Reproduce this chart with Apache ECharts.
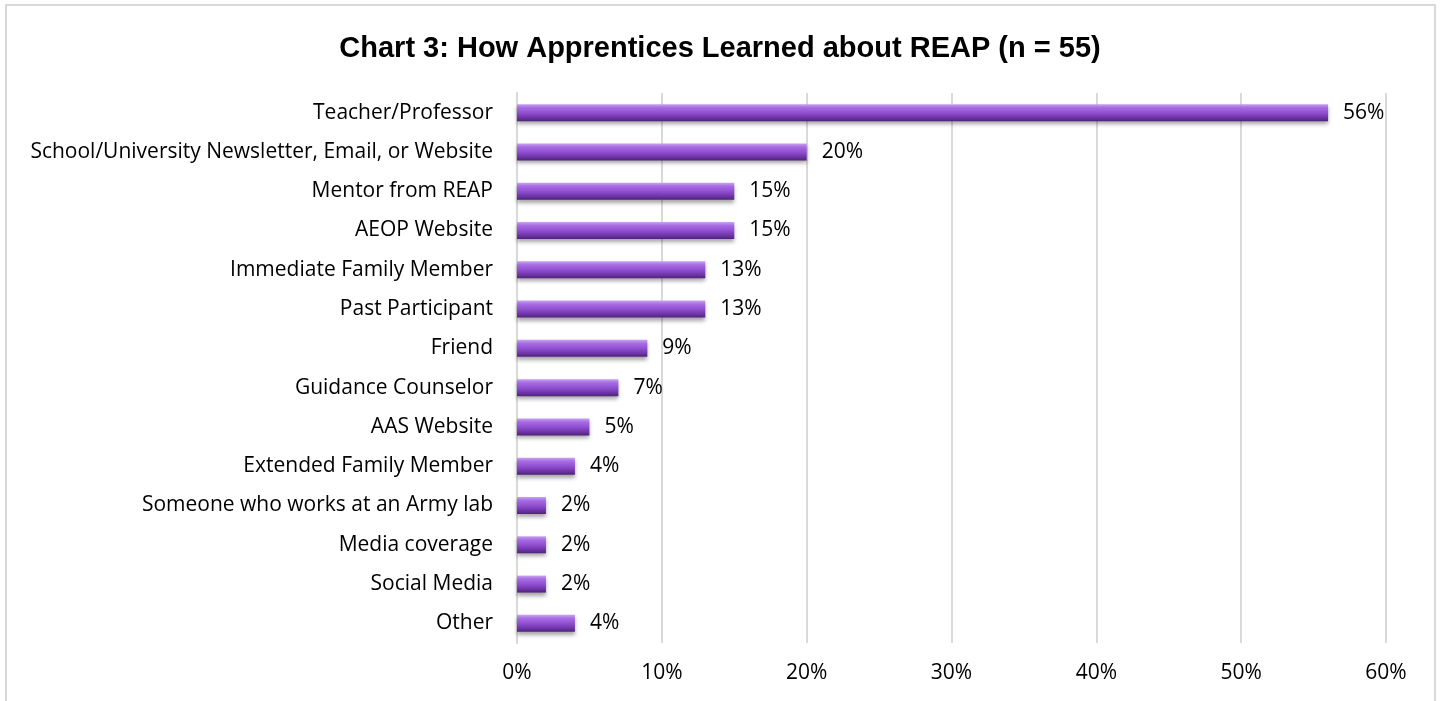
<!DOCTYPE html>
<html>
<head>
<meta charset="utf-8">
<script src="https://cdn.jsdelivr.net/npm/echarts@6/dist/echarts.min.js"></script>
<style>html,body{margin:0;padding:0;background:#fff}#c{width:1440px;height:701px}</style>
</head>
<body>
<div id="c"></div>
<script>
const categories = ["Teacher/Professor","School/University Newsletter, Email, or Website","Mentor from REAP","AEOP Website","Immediate Family Member","Past Participant","Friend","Guidance Counselor","AAS Website","Extended Family Member","Someone who works at an Army lab","Media coverage","Social Media","Other"];
const values = [56,20,15,15,13,13,9,7,5,4,2,2,2,4];
const xTicks = [0,10,20,30,40,50,60];

const chart = echarts.init(document.getElementById('c'));
chart.setOption({
  animation:false,
  backgroundColor:'#fff',
  title:{text:'Chart 3: How Apprentices Learned about REAP (n = 55)',left:'center',top:29,
    textStyle:{fontFamily:'Liberation Sans',fontWeight:'bold',fontSize:29,color:'#000'}},
  graphic:[{type:'rect',shape:{x:6,y:5,width:1429,height:740},style:{fill:'none',stroke:'#d9d9d9',lineWidth:2},silent:true}],
  grid:{left:517,right:54,top:93,height:550},
  xAxis:{type:'value',min:0,max:60,interval:10,
    axisLabel:{formatter:v=>v+'%',fontFamily:'Open Sans',fontSize:21,color:'#000',margin:20},
    axisLine:{show:false},axisTick:{show:false},
    splitLine:{lineStyle:{color:'#d9d9d9',width:2}}},
  yAxis:{type:'category',data:categories,inverse:true,
    axisLabel:{fontFamily:'Open Sans',fontSize:21,color:'#000',margin:24},
    axisLine:{show:true,lineStyle:{color:'#d9d9d9',width:2}},axisTick:{show:false}},
  series:[{type:'bar',data:values,barWidth:17,
    itemStyle:{color:new echarts.graphic.LinearGradient(0,0,0,1,[
      {offset:0,color:'#c9a3f2'},{offset:0.2,color:'#a86de3'},{offset:0.5,color:'#9150d2'},{offset:0.8,color:'#6e34a6'},{offset:1,color:'#4f2279'}]),
      shadowColor:'rgba(0,0,0,0.35)',shadowBlur:4,shadowOffsetY:3},
    label:{show:true,position:'right',distance:15,formatter:p=>p.value+'%',fontFamily:'Open Sans',fontSize:21,color:'#000'}}]
});
</script>
</body>
</html>
